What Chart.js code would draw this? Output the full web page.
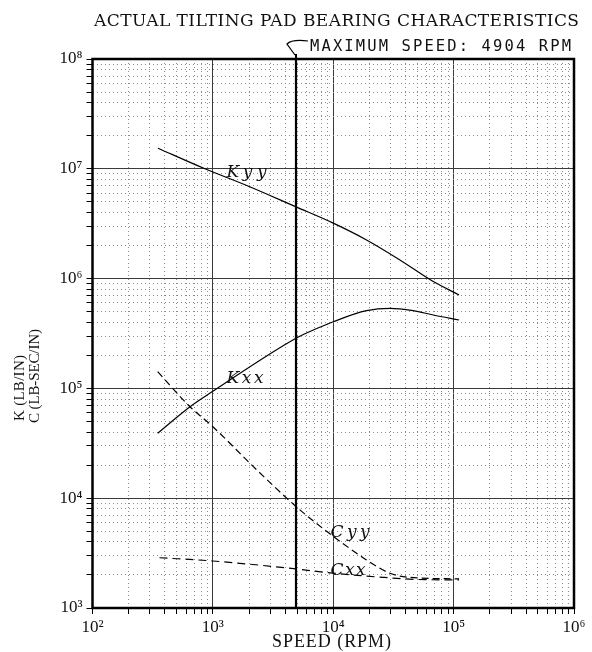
<!DOCTYPE html>
<html>
<head>
<meta charset="utf-8">
<script src="https://cdn.jsdelivr.net/npm/chart.js@4.4.0/dist/chart.umd.min.js"></script>
<style>
  html, body { margin: 0; padding: 0; background: #fff; }
  #wrap { width: 592px; height: 652px; }
</style>
</head>
<body>
<div id="wrap"><canvas id="bearingChart" width="592" height="652"></canvas></div>
<script>
// values (speed in RPM)
var kyySpeed = [350, 860, 2000, 4904, 10000, 18900, 35800, 67800, 111000];
var kyyValue = [1.54e7, 1.0e7, 6.9e6, 4.5e6, 3.2e6, 2.25e6, 1.48e6, 9.4e5, 7.1e5];

var kxxSpeed = [348, 646, 1000, 4904, 6820, 10000, 18900, 29600, 46100, 67800, 111000];
var kxxValue = [3.9e4, 6.8e4, 9.4e4, 2.86e5, 3.4e5, 4.05e5, 5.1e5, 5.36e5, 5.1e5, 4.66e5, 4.2e5];

var cyySpeed = [348, 646, 1000, 2170, 4904, 8800, 18900, 29600, 43400, 111000];
var cyyValue = [1.42e5, 6.8e4, 4.48e4, 1.94e4, 8.4e3, 5.0e3, 2.74e3, 2.07e3, 1.9e3, 1.84e3];

var cxxSpeed = [360, 1000, 4904, 9000, 26000, 49300, 111000];
var cxxValue = [2.87e3, 2.68e3, 2.27e3, 2.1e3, 1.9e3, 1.82e3, 1.8e3];

var maxSpeed = 4904;

var xDecades = [1e2, 1e3, 1e4, 1e5, 1e6];
var yDecades = [1e3, 1e4, 1e5, 1e6, 1e7, 1e8];
var minorSteps = [2, 3, 4, 5, 6, 7, 8, 9];

var titleText = 'ACTUAL TILTING PAD BEARING CHARACTERISTICS';
var speedNote = 'MAXIMUM SPEED: ' + maxSpeed + ' RPM';
var xTitle = 'SPEED (RPM)';
var yTitle = ['K (LB/IN)', 'C (LB-SEC/IN)'];

// curve names, anchored in data units (left edge / baseline)
var curveLabels = [
    { text: 'Kyy', speed: 1300, value: 8.4e6, width: 40 },
    { text: 'Kxx', speed: 1300, value: 1.12e5, width: 37 },
    { text: 'Cyy', speed: 9500, value: 4.4e3, width: 39 },
    { text: 'Cxx', speed: 9500, value: 2.0e3, width: 35 }
];

var SUP = '⁰¹²³⁴⁵⁶⁷⁸⁹';

function isDecade(v) {
    var l = Math.log10(v);
    return Math.abs(l - Math.round(l)) < 1e-6;
}

function logTicks(decades) {
    var out = [];
    decades.forEach(function (d, i) {
        out.push(d);
        if (i < decades.length - 1) {
            minorSteps.forEach(function (m) { out.push(d * m); });
        }
    });
    return out;
}

function toPoints(xs, ys) {
    return xs.map(function (x, i) { return { x: x, y: ys[i] }; });
}

function decadeLabel(value) {
    if (!isDecade(value)) return '';
    return '10' + SUP[Math.round(Math.log10(value))];
}

// draw text stretched to a given width with letter spacing
function fitText(ctx, text, x, y, width, font) {
    ctx.font = font;
    ctx.letterSpacing = '0px';
    var natural = ctx.measureText(text).width;
    var gap = (width - natural) / (text.length - 1);
    ctx.letterSpacing = gap + 'px';
    ctx.textAlign = 'left';
    ctx.fillText(text, x, y);
    ctx.letterSpacing = '0px';
}

var decorPlugin = {
    id: 'decor',
    beforeDraw: function (chart) {
        var ctx = chart.ctx;
        ctx.save();
        ctx.fillStyle = '#fff';
        ctx.fillRect(0, 0, chart.width, chart.height);
        ctx.restore();
    },
    afterDatasetsDraw: function (chart) {
        var ctx = chart.ctx;
        var area = chart.chartArea;
        var xs = chart.scales.x, ys = chart.scales.y;
        ctx.save();

        // frame
        ctx.strokeStyle = '#000';
        ctx.lineWidth = 2.5;
        ctx.strokeRect(area.left, area.top, area.right - area.left, area.bottom - area.top);

        // titles
        ctx.fillStyle = '#111';
        ctx.textBaseline = 'alphabetic';
        fitText(ctx, titleText, 94, 26, 485, '17px "DejaVu Serif"');
        fitText(ctx, speedNote, 310, 51, 261, '15.5px "DejaVu Sans Mono"');
        fitText(ctx, xTitle, 272, 647, 119, '18px "Liberation Serif"');

        // y title, two rotated lines
        ctx.save();
        ctx.rotate(-Math.PI / 2);
        ctx.textBaseline = 'middle';
        fitText(ctx, yTitle[0], -421, 20, 66, '15px "Liberation Serif"');
        fitText(ctx, yTitle[1], -423, 35, 94, '15px "Liberation Serif"');
        ctx.restore();

        // pointer from the max speed line to the note
        var px = xs.getPixelForValue(maxSpeed);
        ctx.strokeStyle = '#000';
        ctx.lineWidth = 2;
        ctx.beginPath();
        ctx.moveTo(px, area.top);
        ctx.lineTo(px, area.top - 5);
        ctx.stroke();
        ctx.lineWidth = 1.2;
        ctx.beginPath();
        ctx.moveTo(px - 1, area.top - 4);
        ctx.lineTo(px - 9, area.top - 15);
        ctx.quadraticCurveTo(px - 4, area.top - 20, px + 12, area.top - 18);
        ctx.stroke();

        // curve names
        ctx.textBaseline = 'alphabetic';
        curveLabels.forEach(function (lb) {
            var lx = xs.getPixelForValue(lb.speed);
            var ly = ys.getPixelForValue(lb.value);
            fitText(ctx, lb.text, lx, ly, lb.width, 'italic 17px "DejaVu Serif"');
        });
        ctx.restore();
    }
};

function gridColor(c) {
    return c.tick && isDecade(c.tick.value) ? '#3a3a3a' : '#8c8c8c';
}
function gridDash(c) {
    return c.tick && !isDecade(c.tick.value) ? [1, 3] : [];
}

var solid = { borderColor: '#000', borderWidth: 1.2, pointRadius: 0, fill: false, cubicInterpolationMode: 'monotone' };

new Chart(document.getElementById('bearingChart').getContext('2d'), {
    type: 'line',
    plugins: [decorPlugin],
    data: {
        datasets: [
            Object.assign({ label: 'Kyy', data: toPoints(kyySpeed, kyyValue) }, solid),
            Object.assign({ label: 'Kxx', data: toPoints(kxxSpeed, kxxValue) }, solid),
            Object.assign({ label: 'Cyy', data: toPoints(cyySpeed, cyyValue), borderDash: [7, 4] }, solid),
            Object.assign({ label: 'Cxx', data: toPoints(cxxSpeed, cxxValue), borderDash: [8, 5] }, solid),
            {
                label: 'Maximum speed',
                data: [{ x: maxSpeed, y: yDecades[0] }, { x: maxSpeed, y: yDecades[yDecades.length - 1] }],
                borderColor: '#000',
                borderWidth: 2.2,
                pointRadius: 0
            }
        ]
    },
    options: {
        responsive: false,
        animation: false,
        events: [],
        layout: { padding: { top: 59, right: 18, left: 0, bottom: 0 } },
        plugins: {
            legend: { display: false },
            tooltip: { enabled: false },
            title: { display: false }
        },
        scales: {
            x: {
                type: 'logarithmic',
                min: xDecades[0],
                max: xDecades[xDecades.length - 1],
                afterBuildTicks: function (scale) {
                    scale.ticks = logTicks(xDecades).map(function (v) { return { value: v, major: isDecade(v) }; });
                },
                afterFit: function (scale) { scale.height = 44; },
                ticks: {
                    autoSkip: false,
                    maxRotation: 0,
                    padding: 3,
                    color: '#111',
                    font: { family: '"Liberation Serif", "DejaVu Serif", serif', size: 17 },
                    callback: decadeLabel
                },
                grid: { color: gridColor, lineWidth: 1, tickColor: '#000', tickLength: 6, tickWidth: 1 },
                border: { display: false, dash: gridDash }
            },
            y: {
                type: 'logarithmic',
                min: yDecades[0],
                max: yDecades[yDecades.length - 1],
                afterBuildTicks: function (scale) {
                    scale.ticks = logTicks(yDecades).map(function (v) { return { value: v, major: isDecade(v) }; });
                },
                afterFit: function (scale) { scale.width = 92.5; },
                ticks: {
                    autoSkip: false,
                    padding: 4,
                    color: '#111',
                    font: { family: '"Liberation Serif", "DejaVu Serif", serif', size: 17 },
                    callback: decadeLabel
                },
                grid: { color: gridColor, lineWidth: 1, tickColor: '#000', tickLength: 6, tickWidth: 1 },
                border: { display: false, dash: gridDash }
            }
        }
    }
});
</script>
</body>
</html>
